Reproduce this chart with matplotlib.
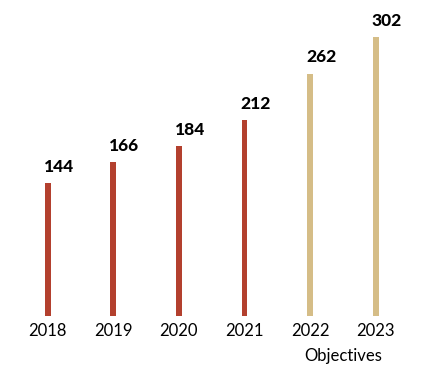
import matplotlib.pyplot as plt

years = ["2018", "2019", "2020", "2021", "2022", "2023"]
values = [144, 166, 184, 212, 262, 302]
is_objective = [False, False, False, False, True, True]

red = "#b3402e"
tan = "#d5bd87"

fig = plt.figure(figsize=(4.42, 3.66), dpi=100)
ax = fig.add_axes([0.034, 0.137, 0.89, 0.833])

x = list(range(len(years)))
colors = [tan if obj else red for obj in is_objective]
ax.bar(x, values, width=0.09, color=colors)

# value labels sit just above each bar, starting at its left edge
for xi, v in zip(x, values):
    ax.text(xi - 0.06, v + 9, str(v), ha="left", va="bottom",
            fontsize=12.5, fontweight="black", family="Lato", color="black")

ax.set_xlim(-0.5, 5.5)
ax.set_ylim(0, 330)
ax.set_xticks(x)
ax.set_xticklabels(years, fontsize=12, family="Lato")
ax.tick_params(axis="x", length=0, pad=5)
ax.set_yticks([])
for s in ax.spines.values():
    s.set_visible(False)

ax.text(4.5, -0.105, "Objectives", transform=ax.get_xaxis_transform(),
        ha="center", va="top", fontsize=12, family="Lato")

fig.savefig("out.png", dpi=100)
